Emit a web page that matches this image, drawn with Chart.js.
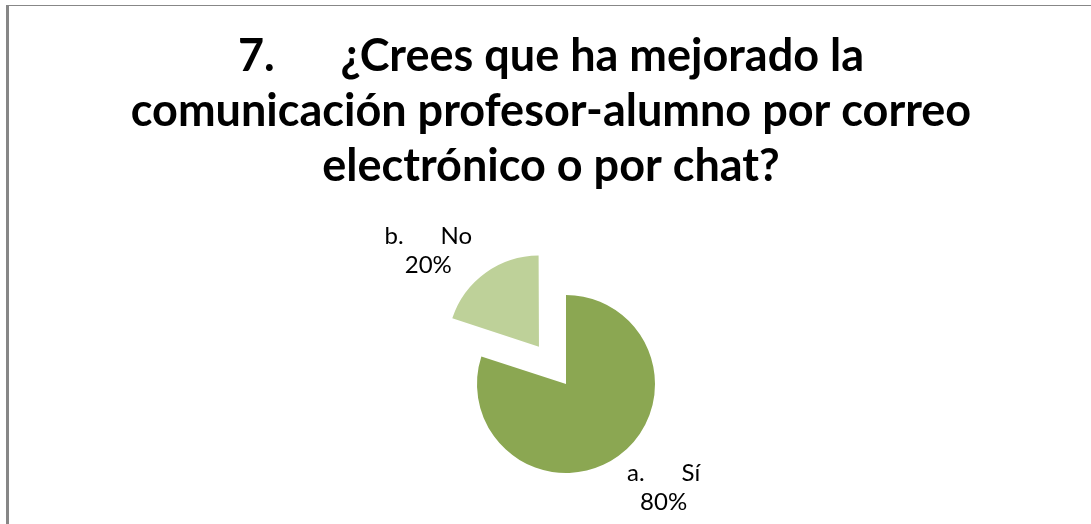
<!DOCTYPE html>
<html>
<head>
<meta charset="utf-8">
<script src="https://cdn.jsdelivr.net/npm/chart.js@4/dist/chart.umd.min.js"></script>
<style>
  html, body { margin: 0; padding: 0; background: #fff; }
  #wrap { position: relative; width: 1091px; height: 524px; overflow: hidden; }
  #frame { position: absolute; left: 6px; top: 5px; right: -5px; bottom: -5px;
           border-left: 3px solid #878787; border-top: 1px solid #878787; }
  canvas { position: absolute; left: 0; top: 0; }
</style>
</head>
<body>
<div id="wrap">
  <div id="frame"></div>
  <canvas id="c" width="1091" height="524"></canvas>
</div>
<script>
// ---- data ----
const titleLines = [
  "7.      ¿Crees que ha mejorado la",
  "comunicación profesor-alumno por correo",
  "electrónico o por chat?"
];
const categories = ["a.      Sí", "b.      No"];
const values = [80, 20];
const percentLabels = ["80%", "20%"];
const sliceColors = ["#8BA752", "#BED199"];

// ---- title plugin (centered lines) ----
const titlePlugin = {
  id: 'titleLines',
  afterDraw(chart, args, opts) {
    const ctx = chart.ctx;
    ctx.save();
    ctx.font = opts.font;
    ctx.fillStyle = opts.color;
    ctx.textAlign = 'center';
    ctx.textBaseline = 'alphabetic';
    opts.lines.forEach((t, i) => ctx.fillText(t, opts.x, opts.y + i * opts.lineHeight));
    ctx.restore();
  }
};

// ---- slice label plugin ----
const sliceLabels = {
  id: 'sliceLabels',
  afterDatasetsDraw(chart, args, opts) {
    const ctx = chart.ctx;
    const meta = chart.getDatasetMeta(0);
    ctx.save();
    ctx.font = opts.font;
    ctx.fillStyle = opts.color;
    ctx.textAlign = 'center';
    ctx.textBaseline = 'middle';
    meta.data.forEach((arc, i) => {
      const p = arc.getProps(['x', 'y', 'startAngle', 'endAngle', 'outerRadius'], true);
      const mid = (p.startAngle + p.endAngle) / 2;
      const shift = (arc.options.offset || 0) / 4;
      const d = p.outerRadius + shift + opts.distance;
      const cx = p.x + Math.cos(mid) * d + opts.nudge[i][0];
      const cy = p.y + Math.sin(mid) * d + opts.nudge[i][1];
      const lines = [categories[i], percentLabels[i]];
      lines.forEach((t, k) => ctx.fillText(t, cx, cy + (k - (lines.length - 1) / 2) * opts.lineHeight));
    });
    ctx.restore();
  }
};

new Chart(document.getElementById('c'), {
  type: 'pie',
  data: {
    labels: categories,
    datasets: [{
      data: values,
      backgroundColor: sliceColors,
      borderWidth: 0,
      offset: [0, 184]
    }]
  },
  options: {
    responsive: false,
    animation: false,
    radius: 89,
    layout: { padding: { left: 41, right: 0, top: 244, bottom: 0 } },
    plugins: {
      legend: { display: false },
      tooltip: { enabled: false },
      title: { display: false },
      titleLines: {
        lines: titleLines,
        font: 'bold 45px Lato',
        color: '#000',
        x: 551,
        y: 71,
        lineHeight: 55
      },
      sliceLabels: {
        font: '24px Lato',
        color: '#000',
        lineHeight: 29,
        distance: 55,
        nudge: [[13, -13], [-26, 20]]
      }
    }
  },
  plugins: [titlePlugin, sliceLabels]
});
</script>
</body>
</html>
